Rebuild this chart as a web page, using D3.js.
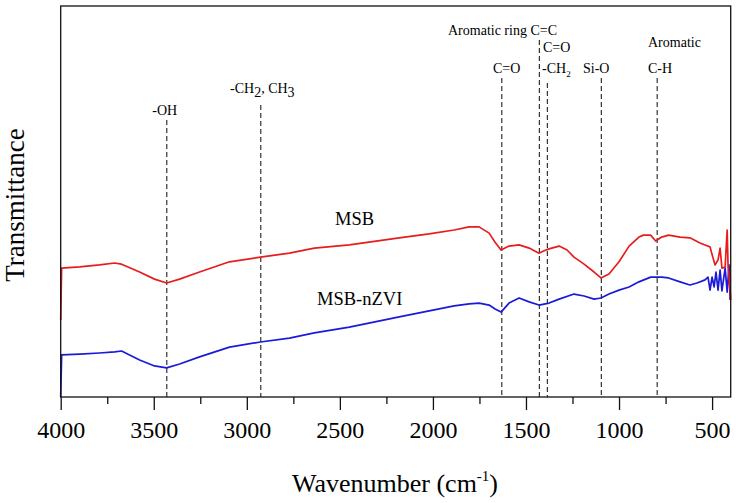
<!DOCTYPE html>
<html>
<head>
<meta charset="utf-8">
<script src="https://cdn.jsdelivr.net/npm/d3@7"></script>
<style>
  html, body { margin: 0; padding: 0; background: #fff; }
  svg { display: block; }
  svg text { font-family: "Liberation Serif", "Times New Roman", Times, serif !important; fill: #000; }
</style>
</head>
<body>
<svg id="chart" width="736" height="503" font-family="Liberation Serif"></svg>
<script>
// ---------- DATA ----------
const seriesNames = ["MSB", "MSB-nZVI"];

// MSB: wavenumber (cm-1) and transmittance (a.u.)
const msbWavenumber = [4000, 3995, 3898, 3791, 3710, 3673, 3576, 3496, 3431, 3361, 3254, 3093, 2927, 2771, 2637, 2449, 2181, 2020, 1886, 1805, 1752, 1698, 1666, 1634, 1591, 1537, 1483, 1430, 1403, 1376, 1322, 1279, 1242, 1188, 1134, 1097, 1054, 1000, 946, 893, 869, 830, 803, 771, 734, 672, 619, 565, 538, 511, 495, 484, 468, 457, 447, 430, 419, 414, 403, 400];
const msbValues     = [19.6, 32.8, 33.1, 33.6, 34.1, 33.8, 31.8, 30.0, 29.0, 30.0, 31.8, 34.4, 35.6, 36.6, 37.9, 38.7, 40.5, 41.5, 42.5, 43.3, 43.3, 41.7, 39.4, 37.4, 38.4, 38.7, 37.9, 36.6, 37.2, 37.7, 38.4, 37.4, 35.6, 33.8, 31.8, 30.3, 31.3, 34.4, 38.4, 40.7, 41.2, 41.2, 39.7, 40.7, 41.2, 40.7, 40.5, 39.2, 38.7, 38.2, 35.4, 33.6, 34.9, 37.9, 32.8, 33.1, 42.5, 33.1, 27.2, 24.7];

// MSB-nZVI
const nzviWavenumber = [4000, 3995, 3898, 3791, 3710, 3673, 3576, 3496, 3431, 3361, 3254, 3093, 2927, 2771, 2637, 2449, 2181, 2020, 1886, 1805, 1752, 1698, 1666, 1634, 1591, 1537, 1483, 1430, 1376, 1322, 1242, 1188, 1134, 1097, 1054, 1000, 946, 893, 830, 771, 734, 672, 619, 581, 538, 522, 511, 500, 489, 479, 468, 457, 447, 430, 419, 409, 403];
const nzviValues     = [0, 10.7, 10.9, 11.2, 11.5, 11.7, 9.4, 7.9, 7.4, 8.4, 10.2, 12.7, 14.0, 15.0, 16.3, 17.8, 20.4, 21.9, 23.2, 23.7, 23.9, 23.4, 22.4, 21.6, 23.9, 25.2, 24.2, 23.4, 23.9, 24.9, 26.2, 25.7, 24.9, 25.2, 26.2, 27.2, 28.0, 29.3, 30.5, 30.5, 30.3, 29.3, 28.5, 29.0, 29.8, 30.5, 27.2, 30.5, 28.0, 31.8, 27.2, 32.3, 27.0, 32.8, 26.7, 33.6, 24.7];

// band assignments
const peakWavenumbers = [3430, 2925, 1630, 1428, 1385, 1095, 795];
const peakLabels = ["-OH", "-CH2, CH3", "C=O", "Aromatic ring C=C", "C=O / -CH2", "Si-O", "Aromatic C-H"];

const xTicks = [4000, 3500, 3000, 2500, 2000, 1500, 1000, 500];
const xMinorTicks = [3750, 3250, 2750, 2250, 1750, 1250, 750];

// ---------- LAYOUT ----------
const FONT = '"Liberation Serif", "Times New Roman", Times, serif';
const plot = { left: 60.7, right: 730.7, top: 6, bottom: 397 };
const svg = d3.select("#chart");

const x = d3.scaleLinear().domain([4000, 400]).range([plot.left, plot.right]);
const y = d3.scaleLinear().domain([0, 99.5]).range([plot.bottom, plot.top]);

// dashed band lines (top ends in px, by layout)
const dashTops = [120, 105, 78, 40, 83, 78, 78];
svg.append("g").selectAll("line")
  .data(peakWavenumbers)
  .join("line")
  .attr("x1", d => x(d)).attr("x2", d => x(d))
  .attr("y1", (d, i) => dashTops[i]).attr("y2", plot.bottom)
  .attr("stroke", "#333").attr("stroke-width", 1.2)
  .attr("stroke-dasharray", "5,3");

// curves
const line = d3.line().x(d => x(d[0])).y(d => y(d[1]));
const msb = msbWavenumber.map((w, i) => [w, msbValues[i]]);
const nzvi = nzviWavenumber.map((w, i) => [w, nzviValues[i]]);

svg.append("path").datum(nzvi).attr("d", line)
  .attr("fill", "none").attr("stroke", "#1a1ad8").attr("stroke-width", 1.7)
  .attr("stroke-linejoin", "round");
svg.append("path").datum(msb).attr("d", line)
  .attr("fill", "none").attr("stroke", "#e81c1c").attr("stroke-width", 1.7)
  .attr("stroke-linejoin", "round");

// frame
svg.append("rect")
  .attr("x", plot.left).attr("y", plot.top)
  .attr("width", plot.right - plot.left).attr("height", plot.bottom - plot.top)
  .attr("fill", "none").attr("stroke", "#111").attr("stroke-width", 1.3);

// x axis major
const gx = svg.append("g").attr("transform", `translate(0,${plot.bottom})`)
  .call(d3.axisBottom(x).tickValues(xTicks).tickSize(13).tickSizeOuter(0).tickPadding(11).tickFormat(d3.format("d")));
gx.attr("font-family", FONT).attr("font-size", 24);
gx.select(".domain").remove();
gx.selectAll("line").attr("stroke", "#111").attr("stroke-width", 1.3);
gx.selectAll("text").style("font-family", FONT).style("font-size", "24px").attr("fill", "#000");

// x axis minor
const gxm = svg.append("g").attr("transform", `translate(0,${plot.bottom})`)
  .call(d3.axisBottom(x).tickValues(xMinorTicks).tickSize(7).tickSizeOuter(0).tickFormat(""));
gxm.select(".domain").remove();
gxm.selectAll("line").attr("stroke", "#111").attr("stroke-width", 1.3);

// axis titles
const xt = svg.append("text").attr("x", 395).attr("y", 492).attr("text-anchor", "middle")
  .style("font-family", FONT).style("font-size", "26px");
xt.append("tspan").text("Wavenumber (cm");
xt.append("tspan").text("-1").style("font-size", "15px").attr("dy", -11);
xt.append("tspan").text(")").attr("dy", 11);

svg.append("text").attr("transform", "translate(24,205) rotate(-90)")
  .attr("text-anchor", "middle").style("font-family", FONT).style("font-size", "27px").text("Transmittance");

// series labels
svg.append("text").attr("x", 335).attr("y", 225).style("font-family", FONT).style("font-size", "18.5px").text(seriesNames[0]);
svg.append("text").attr("x", 317).attr("y", 305).style("font-family", FONT).style("font-size", "18.5px").text(seriesNames[1]);

// band labels
const ann = svg.append("g").style("font-family", FONT).style("font-size", "14px");

ann.append("text").attr("x", x(peakWavenumbers[0]) - 2).attr("y", 115).attr("text-anchor", "middle").text("-OH");

const t2 = ann.append("text").attr("x", 230).attr("y", 93);
t2.append("tspan").text("-CH");
t2.append("tspan").text("2").attr("dy", 4);
t2.append("tspan").text(", CH").attr("dy", -4);
t2.append("tspan").text("3").attr("dy", 4);

ann.append("text").attr("x", 493).attr("y", 73).text("C=O");
ann.append("text").attr("x", 448).attr("y", 35).text("Aromatic ring C=C");
ann.append("text").attr("x", 543).attr("y", 52).text("C=O");
const t5 = ann.append("text").attr("x", 542).attr("y", 73);
t5.append("tspan").text("-CH");
t5.append("tspan").text("2").attr("dy", 4).style("font-size", "9px");
ann.append("text").attr("x", 583).attr("y", 73).text("Si-O");
ann.append("text").attr("x", 648).attr("y", 47).text("Aromatic");
ann.append("text").attr("x", 648).attr("y", 73).text("C-H");
</script>
</body>
</html>
